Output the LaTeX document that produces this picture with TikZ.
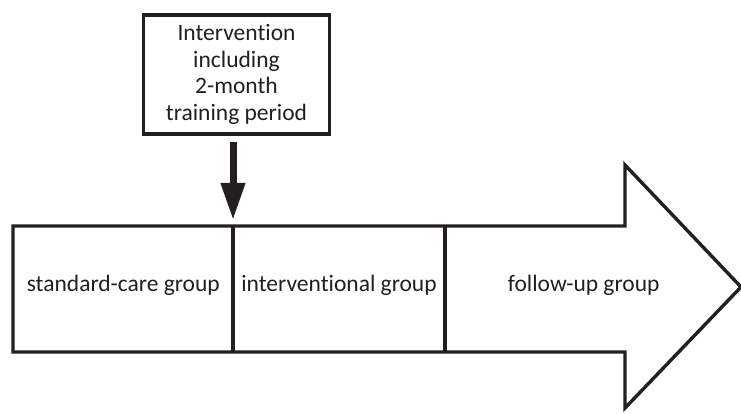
\documentclass[tikz,border=0pt]{standalone}
\usepackage{fontspec}
\setmainfont{Carlito}[Ligatures=NoCommon]
\usetikzlibrary{arrows.meta}
\definecolor{ink}{HTML}{231F20}
\begin{document}
\begin{tikzpicture}[x=1pt,y=-1pt,
  outline/.style={draw=ink,line width=3.4pt,line join=miter},
  lbl/.style={text=ink,font=\fontsize{23.5}{26.7}\selectfont,inner sep=0pt,outer sep=0pt}]
\useasboundingbox (0,0) rectangle (741,414);
\node[outline, lbl, fill=white, minimum width=186pt, minimum height=119pt, align=center] (top) at (236.5,74.5) {Intervention\\including\\2-month\\training period};
\draw[outline] (13,226) -- (625,226) -- (625,165) -- (741,287) -- (625,408) -- (625,352) -- (13,352) -- cycle;
\coordinate (d1top) at (233,226);
\coordinate (d1bot) at (233,352);
\coordinate (d2top) at (445,226);
\coordinate (d2bot) at (445,352);
\draw[outline] (d1top) -- (d1bot);
\draw[outline] (d2top) -- (d2bot);
\node[lbl, anchor=base] (std) at (123.3,291) {standard-care group};
\node[lbl, anchor=base] (int) at (339,291) {interventional group};
\node[lbl, anchor=base] (fol) at (583.7,291) {follow-up group};
\draw[draw=ink, line width=7pt, -{Triangle[length=37pt,width=23pt]}, shorten <=8.5pt, shorten >=6pt] (top.south -| d1top) -- (d1top);
\end{tikzpicture}
\end{document}
